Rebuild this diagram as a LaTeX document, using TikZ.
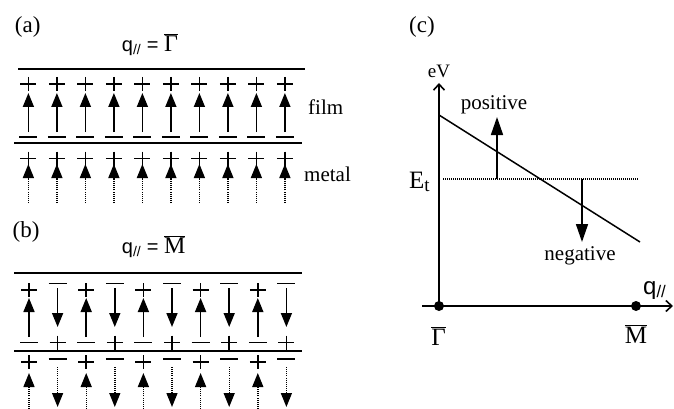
\documentclass[tikz,border=0pt]{standalone}
\usepackage{fontspec}
\setmainfont{Liberation Serif}
\setsansfont{Liberation Sans}
\usetikzlibrary{arrows.meta}
\tikzset{
  plusmark/.pic={\draw[line width=1.6pt] (-8,0)--(8,0) (0,-7)--(0,7);},
  minusmark/.pic={\draw[line width=1.6pt] (-9,0)--(9,0);},
}
\begin{document}
\begin{tikzpicture}[x=1pt,y=-1pt,
  layerline/.style={line width=1.5pt},
  interface/.style={line width=2pt},
  fieldarrow/.style={line width=1.6pt,-{Triangle[length=14pt,width=11pt]}},
  metalarrow/.style={line width=1.4pt,dash pattern=on 1pt off 1.1pt,-{Triangle[length=14pt,width=11pt]}},
  axisline/.style={line width=1.7pt,-{Straight Barb[length=6pt,width=11pt,line width=1.6pt]}},
  bigarrow/.style={line width=1.6pt,-{Triangle[length=18pt,width=12pt]}},
  lbl/.style={anchor=base,inner sep=0pt,font=\fontsize{21}{25}\selectfont},
  panel/.style={anchor=base,inner sep=0pt,font=\fontsize{23}{27}\selectfont},
  qlbl/.style={anchor=base west,inner sep=0pt},
  sym/.style={anchor=base,inner sep=0pt,font=\fontsize{25}{29}\selectfont},
]
\useasboundingbox (0,0) rectangle (674,409);

% ---------- panel (a) ----------
\node[panel] (la) at (27.7,32.7) {(a)};
\node[qlbl] (qa) at (121.7,51.7) {{\sffamily\fontsize{20}{24}\selectfont q\textsubscript{//} = }{\fontsize{24}{28}\selectfont$\overline{\hbox{Γ}}$}};
\draw[layerline] (18,69) -- (305,69);
\draw[interface] (14,143) -- (302,143);
\foreach \i in {0,...,9} {
  \pgfmathsetmacro\xx{28.4+28.5*\i}
  \pic at (\xx,84) {plusmark};
  \draw[fieldarrow] (\xx,132) -- (\xx,93);
  \pic at (\xx,137) {minusmark};
  \pic at (\xx,158.5) {plusmark};
  \draw[metalarrow] (\xx,203) -- (\xx,164);
}
\node[lbl,anchor=base west] (film) at (308,114) {film};
\node[lbl,anchor=base west] (metal) at (304,181) {metal};

% ---------- panel (b) ----------
\node[panel] (lb) at (26,237.5) {(b)};
\node[qlbl] (qb) at (121.7,253.3) {{\sffamily\fontsize{20}{24}\selectfont q\textsubscript{//} = }{\fontsize{24}{28}\selectfont$\overline{\hbox{M}}$}};
\draw[layerline] (14,273) -- (302,273);
\draw[interface] (14,350.5) -- (302,350.5);
\foreach \i in {0,2,4,6,8} {
  \pgfmathsetmacro\xx{29+28.6*\i}
  \pic at (\xx,290) {plusmark};
  \draw[fieldarrow] (\xx,337) -- (\xx,298);
  \pic at (\xx,342.5) {minusmark};
  \pic at (\xx,362) {plusmark};
  \draw[metalarrow] (\xx,409) -- (\xx,373);
}
\foreach \i in {1,3,5,7,9} {
  \pgfmathsetmacro\xx{29+28.6*\i}
  \pic at (\xx,283.5) {minusmark};
  \draw[fieldarrow] (\xx,288) -- (\xx,327);
  \pic at (\xx,342.5) {plusmark};
  \pic at (\xx,359) {minusmark};
  \draw[metalarrow] (\xx,367) -- (\xx,407);
}

% ---------- panel (c) ----------
\node[panel] (lc) at (422,32.7) {(c)};
\coordinate (O) at (439,306);
\coordinate (ytop) at (439,83);
\coordinate (xleft) at (422,306);
\coordinate (xright) at (673,306);
\coordinate (Mpt) at (636,306);
\draw[axisline] (O) -- (ytop);
\draw[axisline] (xleft) -- (xright);
\fill (O) circle (5);
\fill (Mpt) circle (5);
\coordinate (b1) at (439,115);
\coordinate (b2) at (640,242);
\draw[line width=1.5pt] (b1) -- (b2);
\coordinate (e1) at (443,179);
\coordinate (e2) at (638,179);
\draw[line width=1.1pt,dash pattern=on 1pt off 1pt] (e1) -- (e2);
\draw[bigarrow] (497,179) -- (497,117);
\draw[bigarrow] (582,179) -- (582,242);
\node[anchor=base,inner sep=0pt,font=\fontsize{19}{23}\selectfont] (eV) at (439,77.3) {eV};
\node[lbl] (pos) at (494,110) {positive};
\node[lbl] (neg) at (580,260) {negative};
\node[anchor=base west,inner sep=0pt,font=\fontsize{25}{29}\selectfont] (Et) at (409,188.3) {E\raisebox{-3pt}{\fontsize{19}{21}\selectfont t}};
\node[sym] (G) at (438.5,345) {$\overline{\hbox{Γ}}$};
\node[sym] (M) at (636,343.3) {$\overline{\hbox{M}}$};
\node[anchor=base west,inner sep=0pt] (q) at (643,294) {\sffamily\fontsize{24}{28}\selectfont q\textsubscript{//}};
\end{tikzpicture}
\end{document}
